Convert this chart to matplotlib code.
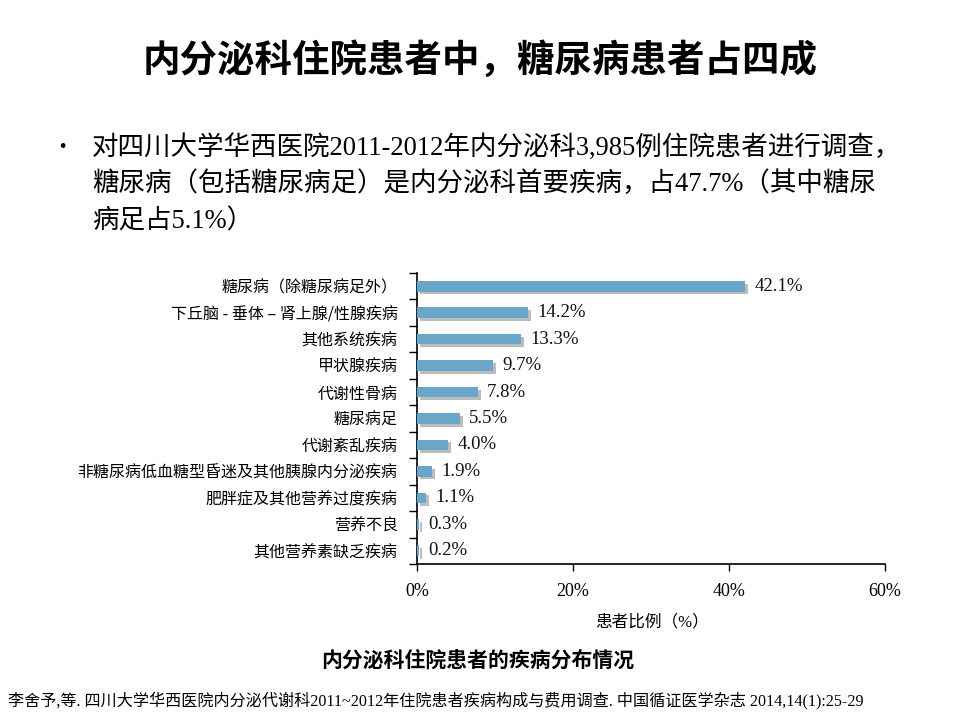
import matplotlib
matplotlib.use("Agg")
import matplotlib.pyplot as plt
import matplotlib.patheffects as pe
from matplotlib.ticker import FixedLocator, FuncFormatter

categories = [
    "糖尿病（除糖尿病足外）",
    "下丘脑 - 垂体 – 肾上腺/性腺疾病",
    "其他系统疾病",
    "甲状腺疾病",
    "代谢性骨病",
    "糖尿病足",
    "代谢紊乱疾病",
    "非糖尿病低血糖型昏迷及其他胰腺内分泌疾病",
    "肥胖症及其他营养过度疾病",
    "营养不良",
    "其他营养素缺乏疾病",
]
values = [42.1, 14.2, 13.3, 9.7, 7.8, 5.5, 4.0, 1.9, 1.1, 0.3, 0.2]
x_ticks = [0, 20, 40, 60]

title = "内分泌科住院患者中，糖尿病患者占四成"
bullet_lines = [
    "对四川大学华西医院2011-2012年内分泌科3,985例住院患者进行调查，",
    "糖尿病（包括糖尿病足）是内分泌科首要疾病，占47.7%（其中糖尿",
    "病足占5.1%）",
]
x_label = "患者比例（%）"
caption = "内分泌科住院患者的疾病分布情况"
footnote = "李舍予,等. 四川大学华西医院内分泌代谢科2011~2012年住院患者疾病构成与费用调查. 中国循证医学杂志 2014,14(1):25-29"

CJK = ["Noto Sans CJK SC", "DejaVu Sans"]
MIX = ["Liberation Serif", "Noto Sans CJK SC", "DejaVu Sans"]
plt.rcParams["font.family"] = CJK

fig = plt.figure(figsize=(9.6, 7.2), dpi=100)
fig.patch.set_facecolor("white")

ax = fig.add_axes([417/960, 1-564/720, 468/960, 291/720])

ypos = list(range(len(categories)))
bars = ax.barh(ypos, values, height=0.4, color="#68A7C9", zorder=3)
for b in bars:
    b.set_path_effects([
        pe.SimplePatchShadow(offset=(2.2, -2.0), shadow_rgbFace="#7a7a7a", alpha=0.5),
        pe.Normal(),
    ])

for y, v in zip(ypos, values):
    ax.text(v + 1.2, y, f"{v:.1f}%", va="center", ha="left",
            fontsize=13.5, family=MIX, color="#111111")

ax.set_xlim(0, 60)
ax.set_ylim(len(categories) - 0.5, -0.5)
ax.set_xticks(x_ticks)
ax.xaxis.set_major_formatter(FuncFormatter(lambda v, p: f"{v:.0f}%"))
for lab in ax.get_xticklabels():
    lab.set_family(MIX)
    lab.set_fontsize(13)
ax.tick_params(axis="x", direction="out", length=5, width=1, pad=9, colors="black")

ax.set_yticks(ypos)
ax.set_yticklabels(categories, fontsize=11.5, family=CJK)
ax.tick_params(axis="y", which="major", length=0, pad=14)
ax.yaxis.set_minor_locator(FixedLocator([i - 0.5 for i in range(len(categories) + 1)]))
ax.tick_params(axis="y", which="minor", direction="out", length=6, width=1)

for s in ["top", "right"]:
    ax.spines[s].set_visible(False)
for s in ["left", "bottom"]:
    ax.spines[s].set_linewidth(1.2)
    ax.spines[s].set_color("black")

ax.set_xlabel(x_label, fontsize=12, family=MIX)
ax.xaxis.set_label_coords((652-417)/468, -(614-564)/291)

fig.text(0.5, 1-60/720, title, ha="center", va="center", fontsize=27,
         fontweight="bold", family=CJK)
fig.text(62/960, 1-147/720, "•", ha="center", va="center", fontsize=16, family=CJK)
for i, line in enumerate(bullet_lines):
    fig.text(92/960, 1-(147 + i*37.5)/720, line, ha="left", va="center",
             fontsize=19.1, family=MIX)

fig.text(478/960, 1-660/720, caption, ha="center", va="center", fontsize=15,
         fontweight="bold", family=CJK)
fig.text(8/960, 1-700/720, footnote, ha="left", va="center", fontsize=11.6, family=MIX)

fig.savefig("out.png", dpi=100, facecolor="white")
